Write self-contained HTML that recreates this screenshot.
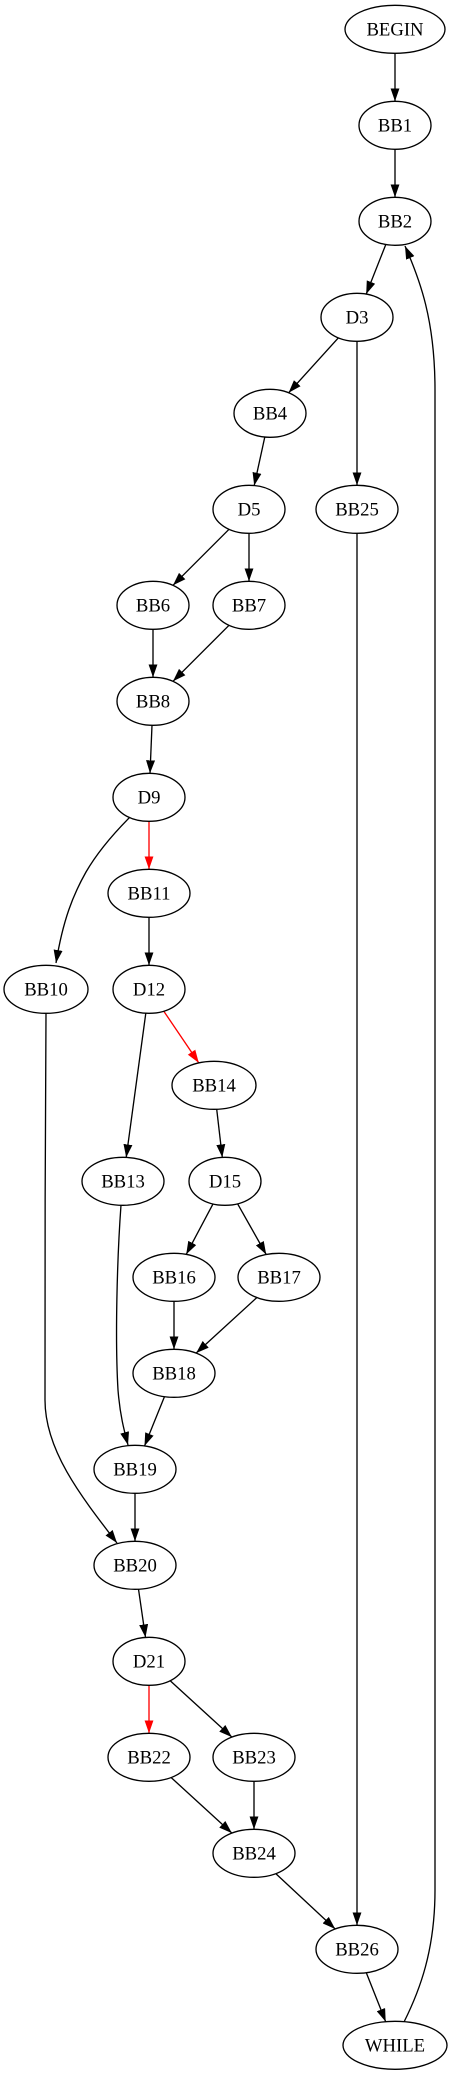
<!DOCTYPE html>
<html><head><meta charset="utf-8"><style>
html,body{margin:0;padding:0;background:#fff;}
svg{display:block;}
text{font-family:"Liberation Serif",serif;font-size:18.7px;text-anchor:middle;fill:#000;}
</style></head><body>
<svg id="g" width="452" height="2075" viewBox="0 0 452 2075" xmlns="http://www.w3.org/2000/svg">
<defs>
<marker id="ab" markerUnits="userSpaceOnUse" markerWidth="14" markerHeight="10" refX="13" refY="4.5" orient="auto"><path d="M0,0 L13,4.5 L0,9 z" fill="#000"/></marker>
<marker id="ar" markerUnits="userSpaceOnUse" markerWidth="14" markerHeight="10" refX="13" refY="4.5" orient="auto"><path d="M0,0 L13,4.5 L0,9 z" fill="#f00"/></marker>
</defs>
<g id="edges" fill="none" stroke="#000" stroke-width="1.33">
<path d="M131,816 C112,835 97,853 86,872 C73,895 63,920 56,963" marker-end="url(#ab)"/>
<path d="M46,1013 C45,1100 45,1330 45,1400 C45,1450 80,1495 117,1543" marker-end="url(#ab)"/>
<path d="M121,1205 C117,1260 115,1340 118,1390 C120,1415 124,1430 128,1445" marker-end="url(#ab)"/>
<path d="M404,2022 C420,1990 435,1950 435,1890 L435,390 C435,320 420,280 405,246" marker-end="url(#ab)"/>
</g>
<g id="nodes" fill="#fff" stroke="#000" stroke-width="1.33">
<ellipse cx="395" cy="29.3" rx="50" ry="24"/>
<ellipse cx="395" cy="125.3" rx="36" ry="24"/>
<ellipse cx="395" cy="221.3" rx="36" ry="24"/>
<ellipse cx="357" cy="317.3" rx="36" ry="24"/>
<ellipse cx="270" cy="413.3" rx="36" ry="24"/>
<ellipse cx="249" cy="509.3" rx="36" ry="24"/>
<ellipse cx="357" cy="509.3" rx="41" ry="24"/>
<ellipse cx="153" cy="605.3" rx="36" ry="24"/>
<ellipse cx="249" cy="605.3" rx="36" ry="24"/>
<ellipse cx="153" cy="701.3" rx="36" ry="24"/>
<ellipse cx="149" cy="797.3" rx="36" ry="24"/>
<ellipse cx="149" cy="893.3" rx="41" ry="24"/>
<ellipse cx="46" cy="989.3" rx="42" ry="24"/>
<ellipse cx="149" cy="989.3" rx="36" ry="24"/>
<ellipse cx="214" cy="1085.3" rx="42" ry="24"/>
<ellipse cx="123" cy="1181.3" rx="41" ry="24"/>
<ellipse cx="225" cy="1181.3" rx="36" ry="24"/>
<ellipse cx="174" cy="1277.3" rx="41" ry="24"/>
<ellipse cx="279" cy="1277.3" rx="41" ry="24"/>
<ellipse cx="174" cy="1373.3" rx="41" ry="24"/>
<ellipse cx="135" cy="1469.3" rx="41" ry="24"/>
<ellipse cx="135" cy="1565.3" rx="41" ry="24"/>
<ellipse cx="149" cy="1661.3" rx="36" ry="24"/>
<ellipse cx="149" cy="1757.3" rx="41" ry="24"/>
<ellipse cx="254" cy="1757.3" rx="41" ry="24"/>
<ellipse cx="254" cy="1853.3" rx="41" ry="24"/>
<ellipse cx="357" cy="1949.3" rx="41" ry="24"/>
<ellipse cx="395" cy="2045.3" rx="52" ry="24"/>
</g>
<g>
<text x="395" y="35.5">BEGIN</text>
<text x="395" y="131.5">BB1</text>
<text x="395" y="227.5">BB2</text>
<text x="357" y="323.5">D3</text>
<text x="270" y="419.5">BB4</text>
<text x="249" y="515.5">D5</text>
<text x="357" y="515.5">BB25</text>
<text x="153" y="611.5">BB6</text>
<text x="249" y="611.5">BB7</text>
<text x="153" y="707.5">BB8</text>
<text x="149" y="803.5">D9</text>
<text x="149" y="899.5">BB11</text>
<text x="46" y="995.5">BB10</text>
<text x="149" y="995.5">D12</text>
<text x="214" y="1091.5">BB14</text>
<text x="123" y="1187.5">BB13</text>
<text x="225" y="1187.5">D15</text>
<text x="174" y="1283.5">BB16</text>
<text x="279" y="1283.5">BB17</text>
<text x="174" y="1379.5">BB18</text>
<text x="135" y="1475.5">BB19</text>
<text x="135" y="1571.5">BB20</text>
<text x="149" y="1667.5">D21</text>
<text x="149" y="1763.5">BB22</text>
<text x="254" y="1763.5">BB23</text>
<text x="254" y="1859.5">BB24</text>
<text x="357" y="1955.5">BB26</text>
<text x="395" y="2051.5">WHILE</text>
</g>
</svg>
<script>
(function(){
var N={BEGIN:[395,0,50],BB1:[395,1,36],BB2:[395,2,36],D3:[357,3,36],BB4:[270,4,36],D5:[249,5,36],BB25:[357,5,41],
BB6:[153,6,36],BB7:[249,6,36],BB8:[153,7,36],D9:[149,8,36],BB11:[149,9,41],D12:[149,10,36],BB14:[214,11,42],
BB13:[123,12,41],D15:[225,12,36],BB16:[174,13,41],BB17:[279,13,41],BB18:[174,14,41],BB19:[135,15,41],BB20:[135,16,41],
D21:[149,17,36],BB22:[149,18,41],BB23:[254,18,41],BB24:[254,19,41],BB26:[357,20,41],WHILE:[395,21,52]};
var E=[["BEGIN","BB1"],["BB1","BB2"],["BB2","D3"],["D3","BB4"],["D3","BB25"],["BB4","D5"],["D5","BB6"],["D5","BB7"],
["BB6","BB8"],["BB7","BB8"],["BB8","D9"],["D9","BB11",1],["BB11","D12"],["D12","BB14",1],["D12","BB13"],["BB14","D15"],
["D15","BB16"],["D15","BB17"],["BB16","BB18"],["BB17","BB18"],["BB18","BB19"],["BB19","BB20"],["BB20","D21"],
["D21","BB22",1],["D21","BB23"],["BB22","BB24"],["BB23","BB24"],["BB24","BB26"],["BB25","BB26"],["BB26","WHILE"]];
var g=document.getElementById("edges"),ns="http://www.w3.org/2000/svg";
function c(n){var a=N[n];return [a[0],29.3+96*a[1],a[2],24];}
E.forEach(function(e){
 var s=c(e[0]),t=c(e[1]);var dx=t[0]-s[0],dy=t[1]-s[1];
 var ts=1/Math.sqrt(Math.pow(dx/s[2],2)+Math.pow(dy/s[3],2));
 var tt=1/Math.sqrt(Math.pow(dx/t[2],2)+Math.pow(dy/t[3],2));
 var x1=s[0]+dx*ts,y1=s[1]+dy*ts,x2=t[0]-dx*tt,y2=t[1]-dy*tt;
 var p=document.createElementNS(ns,"path");
 p.setAttribute("d","M"+x1.toFixed(1)+","+y1.toFixed(1)+" L"+x2.toFixed(1)+","+y2.toFixed(1));
 if(e[2]){p.setAttribute("stroke","#f00");p.setAttribute("marker-end","url(#ar)");}
 else p.setAttribute("marker-end","url(#ab)");
 g.appendChild(p);
});
})();
</script>
</body></html>
